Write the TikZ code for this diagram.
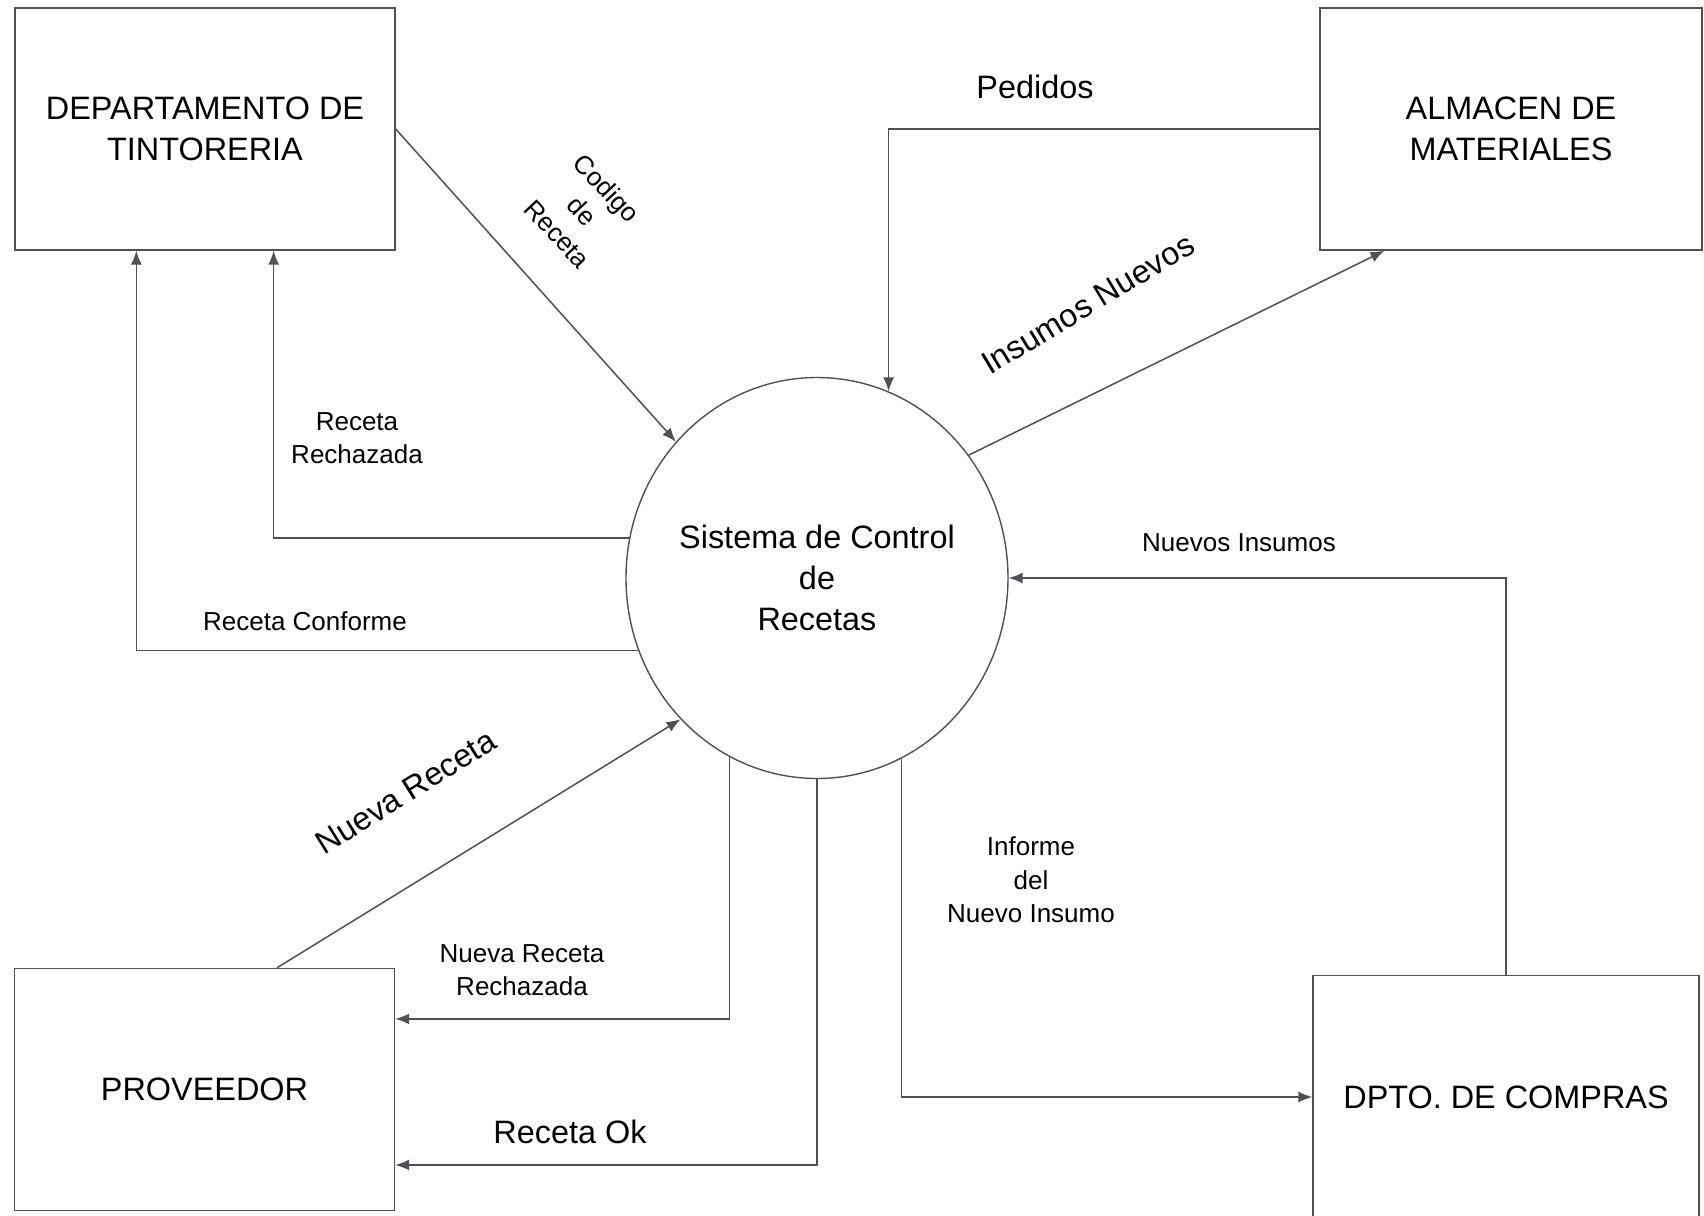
\documentclass[tikz,border=0pt]{standalone}
\usepackage{fontspec}
\setmainfont{Liberation Sans}
\usetikzlibrary{shapes.geometric,arrows.meta,calc}
\definecolor{linegray}{RGB}{80,80,86}

\begin{document}
\begin{tikzpicture}[x=0.5pt, y=-0.5pt]
\tikzset{entity/.style={draw=linegray, line width=0.7pt, minimum width=190pt, minimum height=121pt, inner sep=0pt, align=center, font=\fontsize{16.2}{20.5}\selectfont}}
\tikzset{process/.style={ellipse, draw=linegray, line width=0.7pt, minimum width=191pt, minimum height=200.5pt, inner sep=-4pt, align=center, font=\fontsize{16.2}{20.5}\selectfont}}
\tikzset{flow/.style={draw=linegray, line width=0.75pt, -{Latex[length=7pt,width=5.5pt]}}}
\tikzset{flowlabel/.style={align=center, font=\fontsize{13}{16.8}\selectfont}}
\tikzset{biglabel/.style={align=center, font=\fontsize{16.2}{20.5}\selectfont}}
\useasboundingbox (0,0) rectangle (1704,1216);
% entidades
\node[entity] (tint) at (205,129) {DEPARTAMENTO DE\\TINTORERIA};
\node[entity, minimum width=191pt] (alm) at (1511,129) {ALMACEN DE\\MATERIALES};
\node[entity] (prov) at (204.5,1089.5) {PROVEEDOR};
\node[entity, minimum width=193pt, minimum height=121.5pt] (comp) at (1506,1097) {DPTO. DE COMPRAS};
% proceso
\node[process] (sys) at (817,578) {Sistema de Control\\de\\Recetas};
% flujos
\draw[flow] (tint.east) -- (sys.136);
\draw[flow] (sys.168) -| ($(tint.south west)!0.68!(tint.south east)$);
\draw[flow] (sys.202) -| ($(tint.south west)!0.32!(tint.south east)$);
\draw[flow] (alm.west) -| (sys.69);
\draw[flow] (sys.39) -- ($(alm.south west)!0.17!(alm.south east)$);
\draw[flow] (comp.north) |- (sys.east);
\draw[flow] (sys.-65) |- (comp.west);
\draw[flow] (sys.244) |- ($(prov.north east)!0.21!(prov.south east)$);
\draw[flow] (sys.south) |- ($(prov.north east)!0.81!(prov.south east)$);
\draw[flow] ($(prov.north west)!0.69!(prov.north east)$) -- (sys.226);
% etiquetas
\node[flowlabel, rotate=-47] (lcod) at (582,211) {Codigo\\de\\Receta};
\node[flowlabel] (lrech) at (357,438) {Receta\\Rechazada};
\node[flowlabel] (lconf) at (305,621) {Receta Conforme};
\node[biglabel] (lped) at (1035,87) {Pedidos};
\node[biglabel, rotate=31] (lins) at (1088,304) {Insumos Nuevos};
\node[flowlabel] (lnuev) at (1239,543) {Nuevos Insumos};
\node[flowlabel] (linf) at (1031,880) {Informe\\del\\Nuevo Insumo};
\node[biglabel, rotate=32] (lnr) at (406,792) {Nueva Receta};
\node[flowlabel] (lnrr) at (522,970) {Nueva Receta\\Rechazada};
\node[biglabel] (lok) at (570,1132) {Receta Ok};
\end{tikzpicture}
\end{document}
